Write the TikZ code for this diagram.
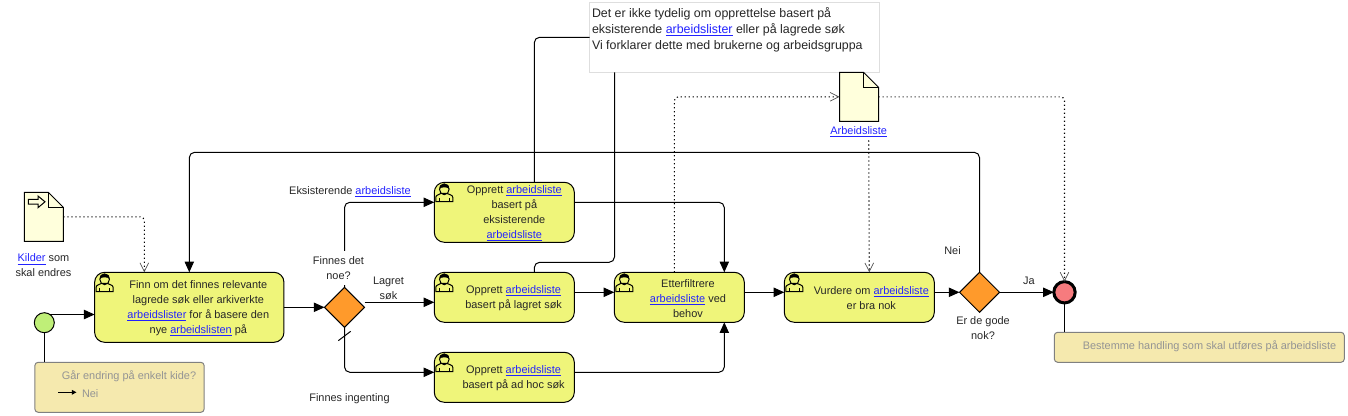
\documentclass[tikz,border=0pt]{standalone}
\usepackage{fontspec}
\setmainfont{Liberation Sans}
\usepackage[svgnames]{xcolor}
\usetikzlibrary{arrows.meta,positioning,shapes.geometric}
\definecolor{taskfill}{HTML}{EFF57A}
\definecolor{gatefill}{HTML}{FF9A2B}
\definecolor{notefill}{HTML}{F5E9AE}
\definecolor{docfill}{HTML}{FFFFDC}
\definecolor{linkblue}{HTML}{2222FF}
\definecolor{startfill}{HTML}{BFEF78}
\definecolor{endfill}{HTML}{F67B7E}
\newcommand{\lnk}[1]{\textcolor{linkblue}{\underline{#1}}}
\newcommand{\docfold}[1]{%
  \draw[docline, fill=docfill] (#1.north west) -- ++(24,0) -- ++(15,15) |- (#1.south west) -- cycle;
  \draw[docline] (#1.north west) ++(24,0) -- ++(0,15) -- ++(15,0);
}
\tikzset{
  usericon/.pic={
    \draw[line width=0.75pt] (1.5,19.3) -- (1.5,15) .. controls (1.5,12.5) and (5,12.5) .. (7,11) -- (12.5,11) .. controls (14.5,12.5) and (18.5,12.5) .. (18.5,15) -- (18.5,19.3) -- cycle;
    \draw[line width=0.75pt] (5,15.5) -- (5,19.3) (15,15.5) -- (15,19.3);
    \draw[line width=0.75pt] (10,7) ellipse (4.8 and 5.4);
    \fill[black] (5.2,6.5) .. controls (5,3) and (7,1.6) .. (10,1.6) .. controls (13,1.6) and (15,3) .. (14.8,6.5) .. controls (13,4.5) and (7,4.5) .. (5.2,6.5) -- cycle;
  }
}

\begin{document}
\begin{tikzpicture}[
  x=0.75pt, y=-0.75pt,
  every node/.style={font=\fontsize{8.2}{11.25}\selectfont, text=black!85, inner sep=0pt, outer sep=0pt},
  taskbox/.style={draw, line width=0.75pt, rounded corners=7.5pt, fill=taskfill},
  tasktext/.style={align=center, yshift=-0.75pt},
  gatebox/.style={draw, line width=0.75pt, diamond, fill=gatefill, minimum width=30pt, minimum height=30pt},
  notebox/.style={draw=gray, line width=0.75pt, rounded corners=2.5pt, fill=notefill},
  notetext/.style={text=black!42},
  docbox/.style={minimum width=29.25pt, minimum height=36.75pt},
  docline/.style={line width=0.75pt},
  lbl/.style={align=center, fill=white},
  flow/.style={line width=0.75pt, rounded corners=4pt, -{Triangle[length=8pt, width=7pt]}},
  assoc/.style={line width=0.75pt, rounded corners=4pt},
  dataflow/.style={line width=0.8pt, rounded corners=3pt, dash pattern=on 0.9pt off 2.1pt, -{Straight Barb[length=6.5pt, width=6.5pt, line width=0.5pt, black!70]}},
]
  \useasboundingbox (0,0) rectangle (1348,416);

  % Annotation
  \node[draw=black!13, line width=0.75pt, fill=white, minimum width=217.5pt, minimum height=52.5pt] (remark) at (734.5,37.3) {};
  \node[anchor=west, align=left, font=\fontsize{9.3}{12}\selectfont] (remarktext) at (592,30) {Det er ikke tydelig om opprettelse basert på\\eksisterende \lnk{arbeidslister} eller på lagrede søk\\Vi forklarer dette med brukerne og arbeidsgruppa};

  % Documents
  \node[docbox] (doc1) at (43.8,216.8) {};
  \docfold{doc1}
  \draw[docline] (28.3,199.5) -- (38,199.5) -- (38,196) -- (45,201.8) -- (38,207.7) -- (38,204.2) -- (28.3,204.2) -- cycle;
  \node[docbox] (doc2) at (859,96.8) {};
  \docfold{doc2}
  \node[tasktext] (doc1text) at (43.5,264.5) {\lnk{Kilder} som\\skal endres};
  \node[tasktext] (doc2text) at (858.7,131) {\lnk{Arbeidsliste}};

  % Events
  \node[draw, line width=0.75pt, circle, fill=startfill, minimum size=15pt] (startev) at (44.3,322.7) {};
  \node[draw, line width=2.25pt, circle, fill=endfill, minimum size=16pt] (endev) at (1064.5,292.3) {};

  % Tasks
  \node[taskbox, minimum width=142pt, minimum height=52.5pt] (task1) at (189.3,307.3) {};
  \node[tasktext] (task1text) at ([xshift=6.75pt]task1.center) {Finn om det finnes relevante\\lagrede søk eller arkiverkte\\\lnk{arbeidslister} for å basere den\\nye \lnk{arbeidslisten} på};
  \node[taskbox, minimum width=105pt, minimum height=45pt] (task2) at (504.3,212.3) {};
  \node[tasktext] (task2text) at ([xshift=7.5pt]task2.center) {Opprett \lnk{arbeidsliste}\\basert på\\eksisterende\\\lnk{arbeidsliste}};
  \node[taskbox, minimum width=105pt, minimum height=37.5pt] (task3) at (504.3,297.3) {};
  \node[tasktext] (task3text) at ([xshift=7pt]task3.center) {Opprett \lnk{arbeidsliste}\\basert på lagret søk};
  \node[taskbox, minimum width=105pt, minimum height=37.5pt] (task4) at (504.3,377.3) {};
  \node[tasktext] (task4text) at ([xshift=7pt]task4.center) {Opprett \lnk{arbeidsliste}\\basert på ad hoc søk};
  \node[taskbox, minimum width=97.5pt, minimum height=37.5pt] (task5) at (679.3,297.3) {};
  \node[tasktext] (task5text) at ([xshift=6.5pt]task5.center) {Etterfiltrere\\\lnk{arbeidsliste} ved\\behov};
  \node[taskbox, minimum width=112.5pt, minimum height=37.5pt] (task6) at (859.3,297.3) {};
  \node[tasktext] (task6text) at ([xshift=9pt]task6.center) {Vurdere om \lnk{arbeidsliste}\\er bra nok};
  \foreach \t in {task1,task2,task3,task4,task5,task6}{
    \pic at (\t.north west) {usericon};
  }

  % Gateways
  \node[gatebox] (gw1) at (344.5,307.3) {};
  \node[gatebox] (gw2) at (979.5,292.3) {};

  % Notes
  \node[notebox, minimum width=127pt, minimum height=37.5pt] (note1) at (119.5,387.3) {};
  \node[notetext] (note1text) at (129,376.5) {Går endring på enkelt kide?};
  \node[notetext, anchor=west] (note1nei) at (82,393.5) {Nei};
  \draw[-{Triangle[length=3.5pt, width=3.5pt]}, line width=0.75pt] (58.3,392.3) -- (76.5,392.3);
  \node[notebox, minimum width=217.5pt, minimum height=22.5pt] (note2) at (1199.3,347.3) {};
  \node[notetext] (note2text) at (1209.5,346.5) {Bestemme handling som skal utføres på arbeidsliste};

  % Sequence flows
  \draw[flow] (startev.55) -- (startev.55 -| task1.west);
  \draw[flow] (task1.east) -- (gw1.west);
  \draw[flow] (gw1.north) |- ([yshift=7.5pt]task2.west);
  \draw[flow] ([yshift=3.75pt]gw1.east) -- ([yshift=-3.75pt]task3.west);
  \draw[flow] (gw1.south) |- ([yshift=3.75pt]task4.west);
  \draw[flow] ([yshift=7.5pt]task2.east) -| ([xshift=33.75pt]task5.north);
  \draw[flow] ([yshift=3.75pt]task3.east) -- ([yshift=3.75pt]task5.west);
  \draw[flow] ([yshift=3.75pt]task4.east) -| ([xshift=33.75pt]task5.south);
  \draw[flow] ([yshift=3.75pt]task5.east) -- ([yshift=3.75pt]task6.west);
  \draw[flow] ([yshift=3.75pt]task6.east) -- (gw2.west);
  \draw[flow] (gw2.east) -- (endev.west);
  \draw[flow] (gw2.north) -- ++(0,-120) -| (task1.north);
  \draw[line width=0.75pt] (338.3,340.7) -- (350.7,331.3);

  % Associations
  \draw[assoc] (startev.south) -- (startev.south |- note1.north);
  \draw[assoc] (endev.south) -- (endev.south |- note2.north);
  \draw[assoc] ([xshift=22.5pt]task2.north) |- (remark.west);
  \draw[assoc] ([xshift=22.5pt]task3.north) -- ++(0,-10) -| ([xshift=-90pt]remark.south);

  % Data flows
  \draw[dataflow] (doc1.east) -| ([xshift=-33.75pt]task1.north);
  \draw[dataflow] (task5.north) ++(-3.75pt,0) |- (doc2.west);
  \draw[dataflow] (doc2.east) -| (endev.north);
  \draw[dataflow] ([xshift=7.5pt]doc2text.south) ++(0,3) -- ([xshift=7.5pt]task6.north);

  % Labels
  \node[lbl, fill=none] (lbleks) at (350,191.5) {Eksisterende \lnk{arbeidsliste}};
  \node[lbl, minimum width=42pt, minimum height=26pt] (lblfinnes) at (338.5,268) {Finnes det\\noe?};
  \node[lbl, fill=none] (lbllagret) at (388.5,288) {Lagret\\søk};
  \node[lbl, fill=none] (lblingen) at (349.5,398.5) {Finnes ingenting};
  \node[lbl, fill=none] (lblnei) at (952.5,251) {Nei};
  \node[lbl, fill=none] (lblja) at (1029,281) {Ja};
  \node[lbl, fill=none] (lblgode) at (983,328.5) {Er de gode\\nok?};
\end{tikzpicture}
\end{document}
